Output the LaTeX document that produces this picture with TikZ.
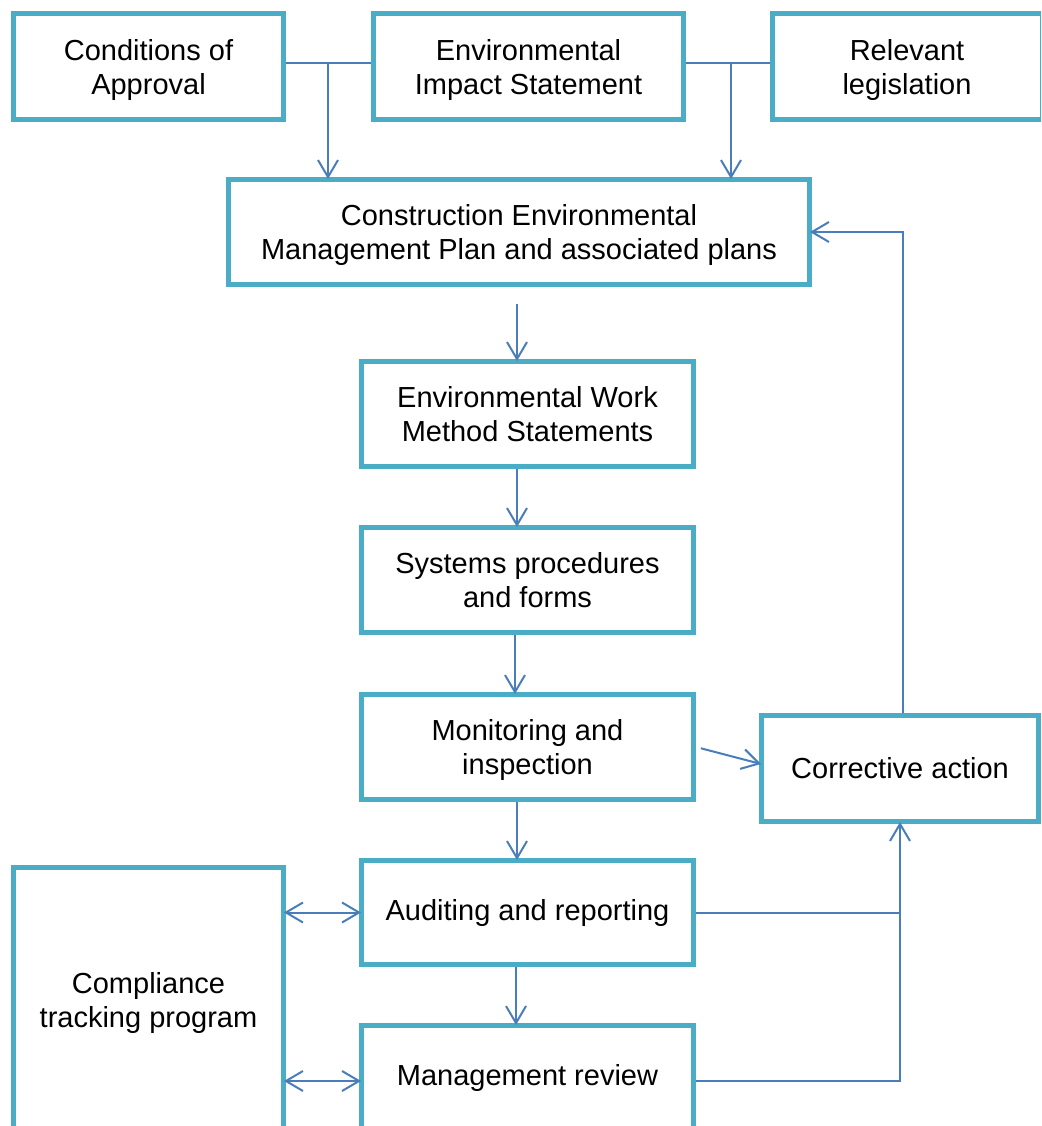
\documentclass[tikz,border=0pt]{standalone}
\usepackage{fontspec}
\setmainfont{Liberation Sans}
\usetikzlibrary{arrows.meta}
\definecolor{boxteal}{HTML}{4BACC6}
\definecolor{linkblue}{HTML}{4A7EBB}
\begin{document}
\begin{tikzpicture}[x=1pt,y=-1pt,
  box/.style={draw=boxteal, line width=5pt, fill=white, align=center,
    font=\fontsize{29pt}{34pt}\selectfont, inner sep=0pt},
  twoline/.style={text depth=-3pt},
  link/.style={draw=linkblue, line width=2pt},
  arr/.style={link, -{Straight Barb[length=17pt,width=20pt,line width=2pt]}},
  darr/.style={link, {Straight Barb[length=17pt,width=20pt,line width=2pt]}-{Straight Barb[length=17pt,width=20pt,line width=2pt]}}]
\useasboundingbox (0,0) rectangle (1041,1126);
\clip (0,0) rectangle (1041,1126);
\fill[white] (0,0) rectangle (1041,1126);
% top row
\node[box, twoline, minimum width=270pt, minimum height=106pt] (coa) at (148.5,66.5) {Conditions of\\Approval};
\node[box, twoline, minimum width=310pt, minimum height=106pt] (eis) at (528.5,66.5) {Environmental\\Impact Statement};
\node[box, twoline, minimum width=270pt, minimum height=106pt] (rl) at (907,66.5) {Relevant\\legislation};
% main column
\node[box, twoline, minimum width=581pt, minimum height=105pt] (cemp) at (519,232) {Construction Environmental\\Management Plan and associated plans};
\node[box, twoline, minimum width=332pt, minimum height=105pt] (ewms) at (527.5,414) {Environmental Work\\Method Statements};
\node[box, twoline, minimum width=332pt, minimum height=105pt] (spf) at (527.5,580) {Systems procedures\\and forms};
\node[box, twoline, minimum width=332pt, minimum height=105pt] (mon) at (527.5,747) {Monitoring and\\inspection};
\node[box, minimum width=332pt, minimum height=104pt] (aud) at (527.5,912.5) {Auditing and reporting};
\node[box, minimum width=332pt, minimum height=105pt] (mr) at (527.5,1078) {Management review};
% sides
\node[box, minimum width=277pt, minimum height=106pt] (corr) at (900,768.5) {Corrective action};
\node[box, twoline, minimum width=270pt, minimum height=265pt] (comp) at (148.5,1000) {Compliance\\tracking program};
% junctions
\coordinate (j1) at (328,63);
\coordinate (j2) at (731,63);
% top connectors
\draw[link] ([yshift=3.5pt]coa.east) -- ([yshift=3.5pt]eis.west);
\draw[link] ([yshift=3.5pt]eis.east) -- ([yshift=3.5pt]rl.west);
\draw[arr] (j1) -- ([yshift=-2pt]j1 |- cemp.north);
\draw[arr] (j2) -- ([yshift=-2pt]j2 |- cemp.north);
% main column
\draw[arr, shorten <=17pt] ([xshift=-2pt]cemp.south) -- ([xshift=-2pt,yshift=-2pt]cemp.south |- ewms.north);
\draw[arr] ([xshift=-2pt]cemp.south |- ewms.south) -- ([xshift=-2pt,yshift=-2pt]cemp.south |- spf.north);
\draw[arr] ([xshift=-4pt]cemp.south |- spf.south) -- ([xshift=-4pt,yshift=-2pt]cemp.south |- mon.north);
\draw[arr] ([xshift=-2pt]cemp.south |- mon.south) -- ([xshift=-2pt,yshift=-2pt]cemp.south |- aud.north);
\draw[arr] ([xshift=-3pt]cemp.south |- aud.south) -- ([xshift=-3pt,yshift=-2pt]cemp.south |- mr.north);
% corrective
\draw[arr, shorten <=5pt] (mon.east) -- ([yshift=4.5pt,xshift=2pt]corr.west);
\draw[arr] ([xshift=3pt]corr.north) |- ([xshift=-2pt]cemp.east);
\draw[link] (aud.east) -- (aud.east -| corr.south);
\draw[arr] ([yshift=-3pt]mr.east) -| ([yshift=2pt]corr.south);
% compliance
\draw[darr] ([xshift=-2pt]comp.east |- aud.west) -- ([xshift=2pt]aud.west);
\draw[darr] ([xshift=-2pt,yshift=-3pt]comp.east |- mr.west) -- ([xshift=2pt,yshift=-3pt]mr.west);
\end{tikzpicture}
\end{document}
